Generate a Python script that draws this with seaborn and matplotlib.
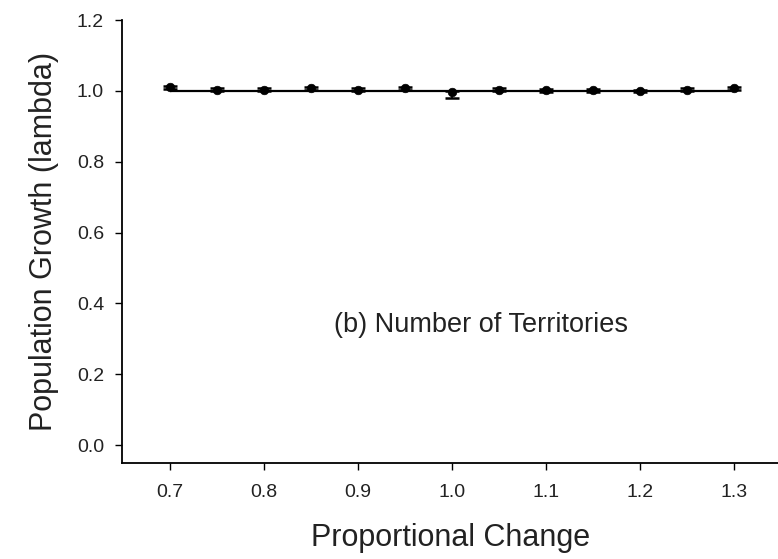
import matplotlib
matplotlib.use('Agg')
import matplotlib.pyplot as plt
import numpy as np
import pandas as pd
import seaborn as sns

# values
proportional_change = [0.70, 0.75, 0.80, 0.85, 0.90, 0.95, 1.00, 1.05, 1.10, 1.15, 1.20, 1.25, 1.30]
lambda_mean = [1.010, 1.004, 1.004, 1.008, 1.004, 1.008, 0.997, 1.004, 1.002, 1.002, 1.000, 1.003, 1.008]
err_low = [0.004, 0.004, 0.004, 0.004, 0.004, 0.004, 0.018, 0.004, 0.004, 0.004, 0.004, 0.004, 0.004]
err_high = [0.004, 0.004, 0.004, 0.004, 0.004, 0.004, 0.004, 0.004, 0.004, 0.004, 0.004, 0.004, 0.004]
baseline = 1.0
y_ticks = [0.0, 0.2, 0.4, 0.6, 0.8, 1.0, 1.2]
x_ticks = [0.7, 0.8, 0.9, 1.0, 1.1, 1.2, 1.3]

df = pd.DataFrame({'change': proportional_change, 'lam': lambda_mean,
                   'lo': err_low, 'hi': err_high})

sns.set_style('ticks')
plt.rcParams['font.family'] = ['Liberation Sans', 'DejaVu Sans']

fig = plt.figure(figsize=(7.78, 5.59), dpi=100)
ax = fig.add_axes([0.157, 0.172, 0.843, 0.792])

ax.hlines(baseline, df['change'].min(), df['change'].max(), color='black', linewidth=1.6, zorder=2)
ax.errorbar(df['change'], df['lam'], yerr=[df['lo'], df['hi']], fmt='none', ecolor='black',
            elinewidth=1.2, capsize=5, capthick=1.8, zorder=3)
sns.scatterplot(data=df, x='change', y='lam', ax=ax, color='black', s=38,
                edgecolor='black', linewidth=0.5, zorder=4, legend=False)

ax.set_xlim(0.649, 1.347)
ax.set_ylim(-0.05, 1.2)
ax.set_xticks(x_ticks)
ax.set_yticks(y_ticks)
ax.set_xticklabels([f'{v:.1f}' for v in x_ticks])
ax.set_yticklabels([f'{v:.1f}' for v in y_ticks])
ax.tick_params(axis='both', direction='out', length=5, width=1, labelsize=14,
               colors='black', labelcolor='#222222')
ax.tick_params(axis='x', pad=10)
ax.tick_params(axis='y', pad=8)

ax.set_xlabel('Proportional Change', fontsize=22, labelpad=16, color='#222222')
ax.set_ylabel('Population Growth (lambda)', fontsize=22, labelpad=13, color='#222222')
ax.text(1.031, 0.339, '(b) Number of Territories', fontsize=19.5, ha='center', va='center',
        color='#222222')

sns.despine(ax=ax)
for side in ['left', 'bottom']:
    ax.spines[side].set_linewidth(1.3)
    ax.spines[side].set_color('black')

fig.savefig('out.png', dpi=100)
